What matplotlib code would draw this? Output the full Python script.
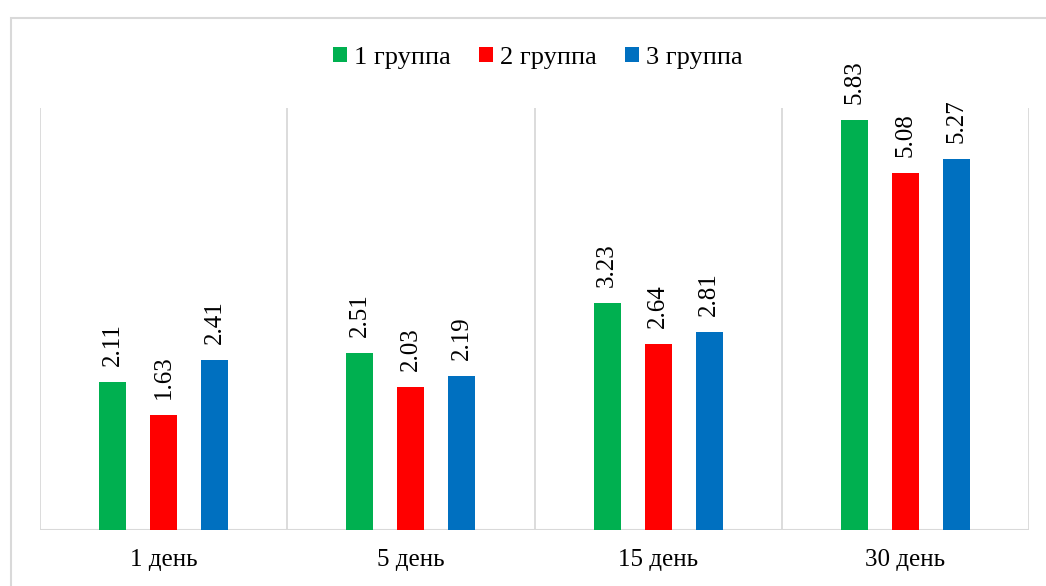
import numpy as np
import matplotlib.pyplot as plt
import matplotlib.patches as mpatches

plt.rcParams['font.family'] = ['Liberation Serif', 'DejaVu Serif']

days = ['1 день', '5 день', '15 день', '30 день']
groups = ['1 группа', '2 группа', '3 группа']
group1 = [2.11, 2.51, 3.23, 5.83]
group2 = [1.63, 2.03, 2.64, 5.08]
group3 = [2.41, 2.19, 2.81, 5.27]
colors = ['#00B050', '#FF0000', '#0070C0']

fig = plt.figure(figsize=(10.46, 5.86), dpi=100)
ax = fig.add_axes([40 / 1046, 1 - 530 / 586, 989 / 1046, 422 / 586])

x = np.arange(len(days))
step = 0.206
width = 0.109
grid_c = '#d9d9d9'

# category separators and baseline
for xs in np.arange(-0.5, len(days), 1.0):
    ax.axvline(xs, color=grid_c, lw=1.3, zorder=0)
ax.axhline(0, color=grid_c, lw=1.5, zorder=1)

handles = []
for i, (vals, col, name) in enumerate(zip([group1, group2, group3], colors, groups)):
    bars = ax.bar(x + (i - 1) * step, vals, width, color=col, label=name, zorder=2)
    handles.append(bars)
    for xi, v in zip(x + (i - 1) * step, vals):
        ax.annotate(f'{v:.2f}', (xi, v), xytext=(0, 16), textcoords='offset pixels',
                    rotation=90, ha='center', va='bottom', fontsize=18)

ax.set_xlim(-0.5, len(days) - 0.5)
ax.set_ylim(0, 6)
ax.set_xticks(x)
ax.set_xticklabels(days, fontsize=18)
ax.tick_params(axis='x', length=0, pad=14)
ax.set_yticks([])
for s in ax.spines.values():
    s.set_visible(False)

# chart frame
fig.patches.append(mpatches.Rectangle((10.5 / 1046, -0.1), 1.2, 1.1 - 18 / 586,
                                      transform=fig.transFigure, fill=False,
                                      edgecolor=grid_c, lw=1.5))

fig.legend(handles=handles, loc='center', bbox_to_anchor=(0.514, 1 - 58 / 586),
           ncol=3, frameon=False, fontsize=19, handlelength=0.53, handleheight=0.53,
           handletextpad=0.27, columnspacing=1.06)

fig.savefig('out.png', dpi=100)
